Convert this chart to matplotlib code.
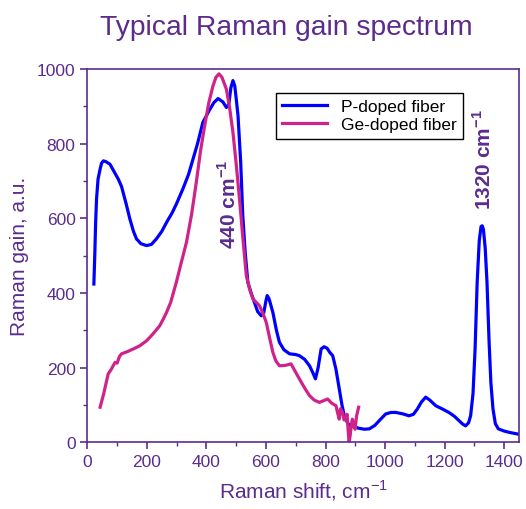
import matplotlib
matplotlib.use("Agg")
from matplotlib import pyplot as plt
from matplotlib.ticker import MultipleLocator

# P-doped fiber spectrum
p_shift = [22, 25, 28, 31, 36, 43, 48, 54, 62, 76, 90, 104, 115, 130, 143,
           155, 165, 180, 199, 215, 232, 250, 266, 285, 300, 321, 340, 355,
           370, 388, 410, 425, 439, 455, 467, 475, 482, 489, 495, 500, 506,
           515, 522, 530, 539, 550, 561, 572, 584, 592, 600, 604, 610, 623,
           635, 645, 660, 679, 700, 712, 730, 746, 758, 766, 775, 785, 795,
           805, 815, 824, 835, 846, 855, 863, 875, 885, 910, 930, 947, 965,
           985, 1002, 1020, 1036, 1060, 1080, 1095, 1108, 1122, 1136, 1150,
           1170, 1195, 1214, 1232, 1248, 1260, 1270, 1280, 1287, 1295, 1302,
           1309, 1316, 1322, 1326, 1330, 1336, 1342, 1349, 1355, 1362, 1370,
           1380, 1400, 1420, 1446]
p_gain = [424, 500, 590, 652, 705, 732, 748, 754, 752, 745, 725, 705, 685,
          640, 598, 565, 545, 532, 527, 530, 545, 565, 589, 615, 640, 679,
          718, 759, 800, 857, 890, 910, 921, 912, 897, 905, 950, 969, 955,
          920, 875, 750, 607, 510, 429, 400, 375, 350, 339, 345, 380, 393,
          385, 348, 300, 268, 248, 237, 235, 232, 222, 205, 185, 170, 200,
          250, 256, 252, 240, 232, 195, 143, 100, 71, 50, 44, 38, 35, 36, 45,
          62, 76, 80, 80, 76, 71, 75, 89, 108, 121, 113, 98, 88, 80, 70, 58,
          49, 44, 52, 71, 130, 250, 429, 540, 578, 580, 570, 520, 429, 270,
          160, 90, 50, 36, 30, 26, 22]

# Ge-doped fiber spectrum
ge_shift = [43, 55, 70, 80, 93, 100, 108, 115, 135, 154, 175, 199, 220, 243,
            255, 266, 280, 299, 315, 333, 350, 366, 380, 394, 408, 422, 432,
            442, 452, 467, 478, 489, 500, 511, 522, 534, 545, 556, 567, 578,
            590, 601, 612, 623, 633, 645, 665, 684, 698, 712, 730, 746, 762,
            779, 795, 807, 820, 835, 840, 846, 850, 857, 862, 868, 872, 876,
            879, 883, 887, 890, 895, 899, 904, 911]
ge_gain = [94, 130, 183, 195, 214, 212, 230, 237, 243, 250, 258, 272, 290,
           312, 330, 348, 375, 429, 480, 536, 610, 697, 780, 848, 910, 955,
           978, 987, 978, 946, 895, 830, 745, 652, 550, 446, 410, 384, 375,
           366, 345, 321, 280, 241, 218, 205, 206, 210, 190, 170, 145, 125,
           113, 107, 112, 116, 105, 98, 80, 62, 90, 80, 60, 62, 75, 30, 0, 20,
           50, 62, 45, 35, 70, 94]

purple = "#5B2C8C"
blue = "#0000FF"
magenta = "#D0238A"

plt.rcParams['font.family'] = ['Liberation Sans', 'DejaVu Sans']
plt.rcParams['mathtext.fontset'] = 'custom'
plt.rcParams['mathtext.rm'] = 'Liberation Sans'
plt.rcParams['mathtext.bf'] = 'Liberation Sans:bold'

fig = plt.figure(figsize=(5.26, 5.10), dpi=100)
ax = fig.add_axes([0.166, 0.1308, 0.821, 0.7319])

ax.plot(p_shift, p_gain, color=blue, lw=2.3, label="P-doped fiber")
ax.plot(ge_shift, ge_gain, color=magenta, lw=2.3, label="Ge-doped fiber")

ax.set_xlim(0, 1450)
ax.set_ylim(0, 1000)
ax.xaxis.set_major_locator(MultipleLocator(200))
ax.xaxis.set_minor_locator(MultipleLocator(100))
ax.yaxis.set_major_locator(MultipleLocator(200))
ax.yaxis.set_minor_locator(MultipleLocator(100))

for s in ax.spines.values():
    s.set_color(purple)
    s.set_linewidth(1.2)
ax.tick_params(which='both', direction='out', colors=purple, labelsize=12.5,
               top=False, right=False)
ax.tick_params(which='major', length=5, width=1.2)
ax.tick_params(which='minor', length=3, width=1.0)

ax.set_xlabel("Raman shift, cm$^{-1}$", color=purple, fontsize=15, labelpad=6)
ax.set_ylabel("Raman gain, a.u.", color=purple, fontsize=15, labelpad=6)
fig.text(0.544, 0.945, "Typical Raman gain spectrum", color=purple,
         fontsize=20.3, ha='center', va='center')

# peak annotations
ax.text(473, 640, r"440 cm$^{\mathbf{-1}}$", color=purple, fontsize=15,
        fontweight='bold', rotation=90, ha='center', va='center')
ax.text(1330, 760, r"1320 cm$^{\mathbf{-1}}$", color=purple, fontsize=15,
        fontweight='bold', rotation=90, ha='center', va='center')

leg = ax.legend(loc='upper left', bbox_to_anchor=(0.416, 0.96), fontsize=12.5,
                fancybox=False, framealpha=1, edgecolor='black',
                handlelength=2.6, borderpad=0.35, labelspacing=0.2)
leg.get_frame().set_linewidth(1.0)

fig.savefig("out.png", dpi=100)
